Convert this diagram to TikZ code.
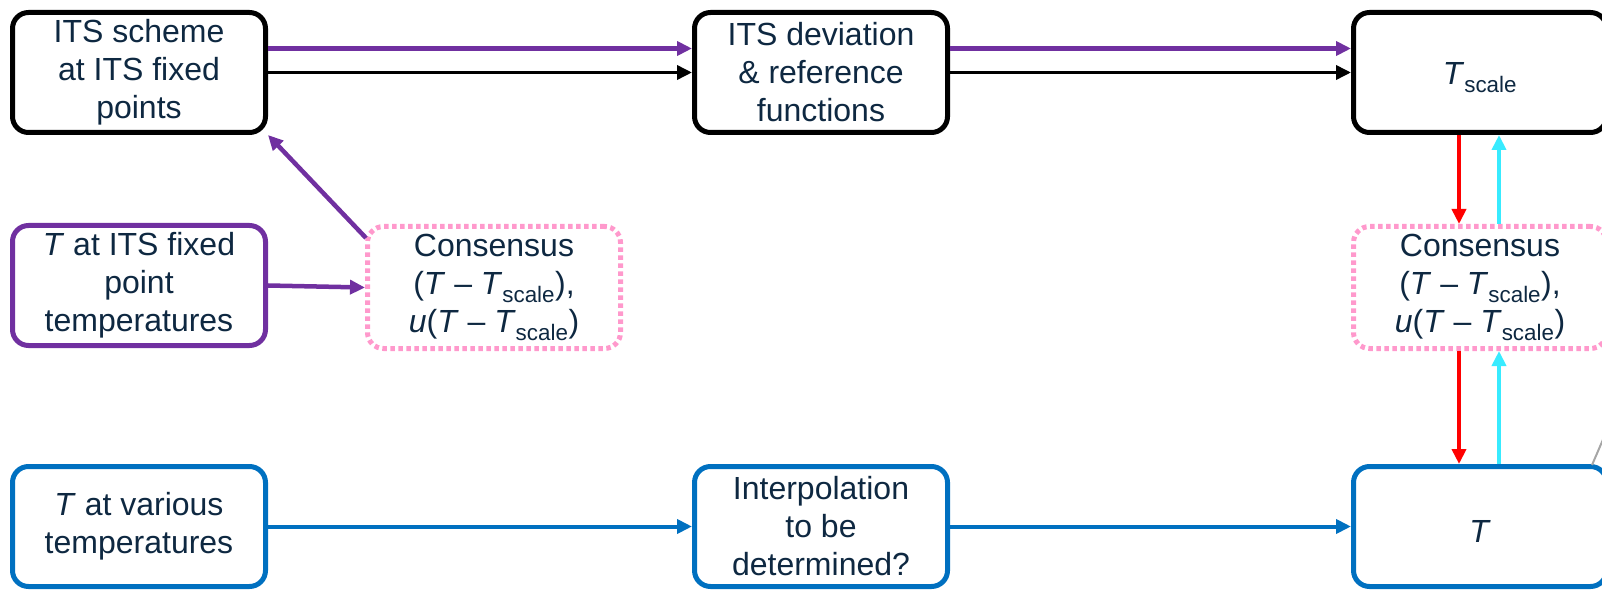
\documentclass[tikz,border=0pt]{standalone}
\usepackage{fontspec}
\setmainfont{Liberation Sans}
\usepackage{tikz}
\definecolor{its_text}{HTML}{0E2841}
\definecolor{its_purple}{HTML}{7030A0}
\definecolor{its_blue}{HTML}{0070C0}
\definecolor{its_pink}{HTML}{FF99CC}
\definecolor{its_red}{HTML}{FF0000}
\definecolor{its_cyan}{HTML}{38EBFF}
\definecolor{its_gray}{HTML}{A6A6A6}
\tikzset{
  box_font/.style = {font=\fontsize{32}{38}\selectfont},
  box_size/.style = {minimum width=253pt, minimum height=120pt},
  box_strut/.style = {execute at begin node={\rule{0pt}{32pt}\ignorespaces}},
  block/.style = {box_font, box_size, box_strut, align=center, draw, line width=5pt,
    rounded corners=16pt, text=its_text, inner sep=0pt},
  scheme/.style = {block, draw=black},
  fixed/.style = {block, draw=its_purple},
  various/.style = {block, draw=its_blue},
  consensus/.style = {block, draw=its_pink, dash pattern=on 4.5pt off 3.5pt,
    minimum height=122pt}
}
\tikzset{
  link/.style = {line width=4pt, -{Triangle[length=15pt,width=14pt]}},
  purple_link/.style = {link, its_purple, line width=4.5pt},
  black_link/.style = {link, black, line width=3.5pt},
  blue_link/.style = {link, its_blue},
  down_link/.style = {link, its_red},
  up_link/.style = {link, its_cyan},
  gray_link/.style = {line width=2pt, its_gray}
}
\usetikzlibrary{positioning, arrows.meta}

\newcommand{\Tsc}{\textit{T}\textsubscript{scale}}

\begin{document}
\begin{tikzpicture}[x=1pt, y=-1pt, node distance=0]
        \useasboundingbox (0,0) rectangle (1602,593);
        \clip (0,0) rectangle (1602,593);

        % ITS scale row
        \node[scheme] at (139,72.5) (scheme) {
            ITS scheme \\ at ITS fixed \\ points};
        \node[scheme, right=424pt of scheme] (deviation) {
            ITS deviation \\ \& reference \\ functions};
        \node[scheme, right=401pt of deviation] (tscale) {
            \Tsc};

        % fixed points row
        \node[fixed, below=88pt of scheme] (fixed) {
            \textit{T} at ITS fixed \\ point \\ temperatures};
        \node[consensus, right=97pt of fixed, yshift=-2pt] (cons_fixed) {
            Consensus \\ (\textit{T} -- \Tsc), \\ \textit{u}(\textit{T} -- \Tsc)};
        \node[consensus] at (tscale |- cons_fixed) (cons_any) {
            Consensus \\ (\textit{T} -- \Tsc), \\ \textit{u}(\textit{T} -- \Tsc)};

        % other temperatures row
        \node[various, below=116pt of fixed] (various) {
            \textit{T} at various \\ temperatures};
        \node[various] at (deviation |- various) (interp) {
            Interpolation \\ to be \\ determined?};
        \node[various] at (tscale |- various) (thermo) {
            \textit{T}};

        % Arrows and lines
        \draw[purple_link] ([yshift=24pt]scheme.east)--([yshift=24pt]deviation.west);
        \draw[black_link] (scheme.east)--(deviation.west);
        \draw[purple_link] ([yshift=24pt]deviation.east)--([yshift=24pt]tscale.west);
        \draw[black_link] (deviation.east)--(tscale.west);

        \draw[purple_link] (fixed.east)--(cons_fixed.west);
        \draw[purple_link] ([xshift=1pt, yshift=-14pt]cons_fixed.north west)--(scheme.south east);

        \draw[down_link] ([xshift=-21pt]tscale.south)--([xshift=-21pt]cons_any.north);
        \draw[up_link] ([xshift=19pt]cons_any.north)--([xshift=19pt]tscale.south);
        \draw[down_link] ([xshift=-21pt]cons_any.south)--([xshift=-21pt]thermo.north);
        \draw[up_link] ([xshift=19pt]thermo.north)--([xshift=19pt]cons_any.south);

        \draw[blue_link] (various.east)--(interp.west);
        \draw[blue_link] (interp.east)--(thermo.west);

        \coordinate (off_right) at (1614,414);
        \draw[gray_link] ([xshift=-17pt, yshift=-1pt]thermo.north east)--(off_right);
    \end{tikzpicture}
\end{document}
